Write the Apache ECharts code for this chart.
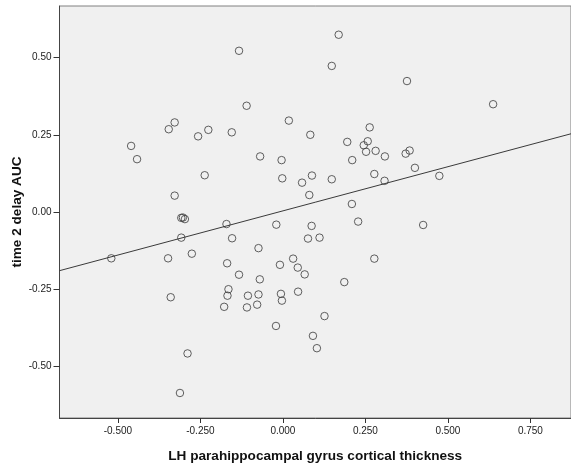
<!DOCTYPE html>
<html>
<head>
<meta charset="utf-8">
<style>
  html, body { margin: 0; padding: 0; background: #ffffff; }
  #chart { width: 571px; height: 470px; }
</style>
<script src="https://cdn.jsdelivr.net/npm/echarts@6/dist/echarts.min.js"></script>
</head>
<body>
<div id="chart"></div>
<script>
// LH parahippocampal gyrus cortical thickness (x) per subject
const thickness = [
  -0.460, -0.442, -0.346, -0.328, -0.257, -0.328, -0.308, -0.303, -0.297, -0.308,
  -0.520, -0.348, -0.276, -0.340, -0.289, -0.312,  0.169, -0.133,  0.148, -0.110,
   0.018, -0.226, -0.155,  0.083,  0.263,  0.195,  0.257,  0.245,  0.252,  0.281,
  -0.069, -0.004,  0.210, -0.237, -0.002,  0.058,  0.088,  0.148,  0.277,  0.080,
   0.209,  0.228, -0.171, -0.020,  0.087, -0.154,  0.076,  0.111, -0.074, -0.169,
   0.031, -0.009,  0.045,  0.277, -0.133,  0.066, -0.070,  0.186, -0.165, -0.168,
  -0.106, -0.074, -0.006,  0.046, -0.003, -0.178, -0.109, -0.078,  0.126, -0.021,
   0.091,  0.103,  0.376,  0.637,  0.309,  0.372,  0.384,  0.308,  0.400,  0.474,
   0.425
];

// time 2 delay AUC (y) per subject, same order
const delayAuc = [
   0.214,  0.171,  0.268,  0.290,  0.245,  0.053, -0.019, -0.018, -0.023, -0.083,
  -0.150, -0.150, -0.135, -0.276, -0.458, -0.586,  0.574,  0.522,  0.473,  0.344,
   0.296,  0.266,  0.258,  0.250,  0.274,  0.227,  0.229,  0.216,  0.195,  0.198,
   0.180,  0.168,  0.168,  0.119,  0.109,  0.095,  0.118,  0.106,  0.123,  0.055,
   0.026, -0.031, -0.039, -0.041, -0.045, -0.085, -0.086, -0.083, -0.117, -0.166,
  -0.151, -0.171, -0.180, -0.151, -0.203, -0.202, -0.218, -0.227, -0.250, -0.271,
  -0.271, -0.267, -0.265, -0.258, -0.287, -0.307, -0.309, -0.300, -0.337, -0.369,
  -0.401, -0.441,  0.424,  0.349,  0.180,  0.189,  0.199,  0.101,  0.143,  0.117,
  -0.042
];

// Least-squares fit line: [intercept, slope]
const fitCoef = [0.0036, 0.286];

// Axis extents and tick values
const xRange = [-0.677, 0.873];
const yRange = [-0.667, 0.667];
const xTicks = [-0.5, -0.25, 0, 0.25, 0.5, 0.75];
const yTicks = [-0.5, -0.25, 0, 0.25, 0.5];

const points = thickness.map((x, i) => [x, delayAuc[i]]);
const fitLine = xRange.map(x => [x, fitCoef[0] + fitCoef[1] * x]);

const labelFont = { fontFamily: 'Liberation Sans, Arial, sans-serif', fontSize: 10, color: '#222' };
const titleFont = { fontFamily: 'Liberation Sans, Arial, sans-serif', fontSize: 13.6, fontWeight: 'bold', color: '#111' };

const chart = echarts.init(document.getElementById('chart'), null, { renderer: 'canvas' });
chart.setOption({
  animation: false,
  backgroundColor: '#ffffff',
  grid: {
    left: 59.5, right: 0, top: 6, bottom: 52,
    outerBoundsMode: 'none',
    containLabel: false,
    show: true,
    backgroundColor: '#f0f0f0',
    borderColor: '#808080',
    borderWidth: 1
  },
  xAxis: {
    type: 'value',
    min: xRange[0],
    max: xRange[1],
    name: 'LH parahippocampal gyrus cortical thickness',
    nameLocation: 'middle',
    nameGap: 31.5,
    nameMoveOverlap: false,
    nameTextStyle: titleFont,
    axisLine: { show: true, onZero: false, lineStyle: { color: '#444', width: 1 } },
    axisTick: { show: true, inside: false, length: 5, customValues: xTicks, lineStyle: { color: '#333' } },
    axisLabel: Object.assign({
      margin: 8.5,
      customValues: xTicks,
      formatter: v => v.toFixed(3)
    }, labelFont),
    splitLine: { show: false }
  },
  yAxis: {
    type: 'value',
    min: yRange[0],
    max: yRange[1],
    name: 'time 2 delay AUC',
    nameLocation: 'middle',
    nameGap: 35.5,
    nameRotate: 90,
    nameMoveOverlap: false,
    nameTextStyle: titleFont,
    axisLine: { show: true, onZero: false, lineStyle: { color: '#444', width: 1 } },
    axisTick: { show: true, inside: false, length: 6, customValues: yTicks, lineStyle: { color: '#333' } },
    axisLabel: Object.assign({
      margin: 8,
      customValues: yTicks,
      formatter: v => v.toFixed(2)
    }, labelFont),
    splitLine: { show: false }
  },
  series: [
    {
      type: 'line',
      data: fitLine,
      showSymbol: false,
      silent: true,
      lineStyle: { color: '#3a3a3a', width: 1 },
      z: 2
    },
    {
      type: 'scatter',
      data: points,
      symbol: 'circle',
      symbolSize: 7.5,
      itemStyle: { color: 'rgba(0,0,0,0)', borderColor: '#3a3a3a', borderWidth: 1 },
      z: 3
    }
  ]
});
</script>
</body>
</html>
